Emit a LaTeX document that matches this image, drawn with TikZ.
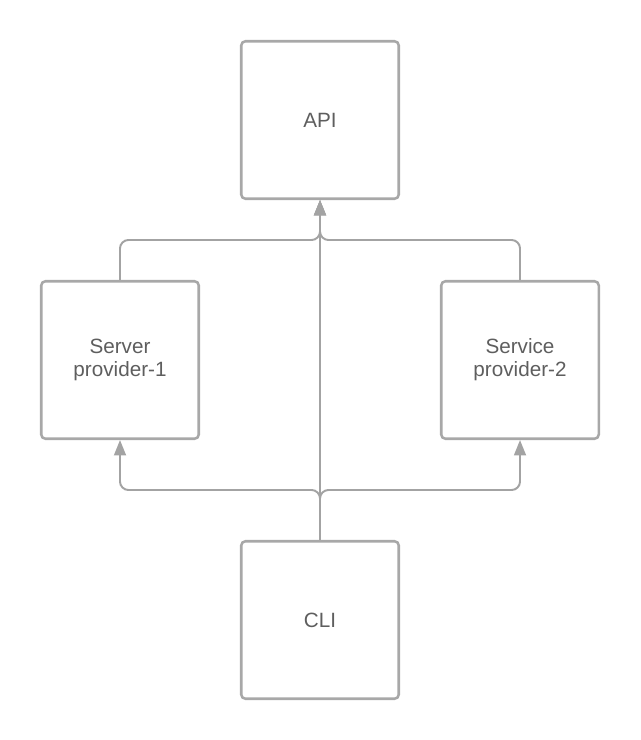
\documentclass[tikz,border=0pt]{standalone}
\usepackage{fontspec}
\setmainfont{Liberation Sans}
\usetikzlibrary{arrows.meta}
\definecolor{edge}{HTML}{A3A3A3}
\definecolor{frame}{HTML}{A8A8A8}
\definecolor{label}{HTML}{5E5E5E}

\begin{document}
\begin{tikzpicture}[x=0.025cm,y=-0.025cm,>={Triangle[width=8.5pt,length=11pt]},
  box/.style={draw=frame,line width=1.8pt,rounded corners=3pt,
    minimum width=4cm-1.8pt,minimum height=4cm-1.8pt,align=center,
    text=label,font=\fontsize{14.7}{16.5}\selectfont},
  link/.style={draw=edge,line width=1.4pt,rounded corners=6pt,->}]
  \useasboundingbox (0,0) rectangle (640,740);

  \node[box] (api) at (320,120) {API};
  \node[box] (srv) at (120,360) {Server\\provider-1};
  \node[box] (svc) at (520,360) {Service\\provider-2};
  \node[box] (cli) at (320,620) {CLI};

  % providers up to the API
  \draw[link] (srv.north) -- (120,240) -- (320,240) -- (api.south);
  \draw[link] (svc.north) -- (520,240) -- (320,240) -- (api.south);
  \draw[link] (cli.north) -- (api.south);

  % CLI out to both providers
  \draw[link] (cli.north) -- (320,490) -- (120,490) -- (srv.south);
  \draw[link] (cli.north) -- (320,490) -- (520,490) -- (svc.south);
\end{tikzpicture}
\end{document}
